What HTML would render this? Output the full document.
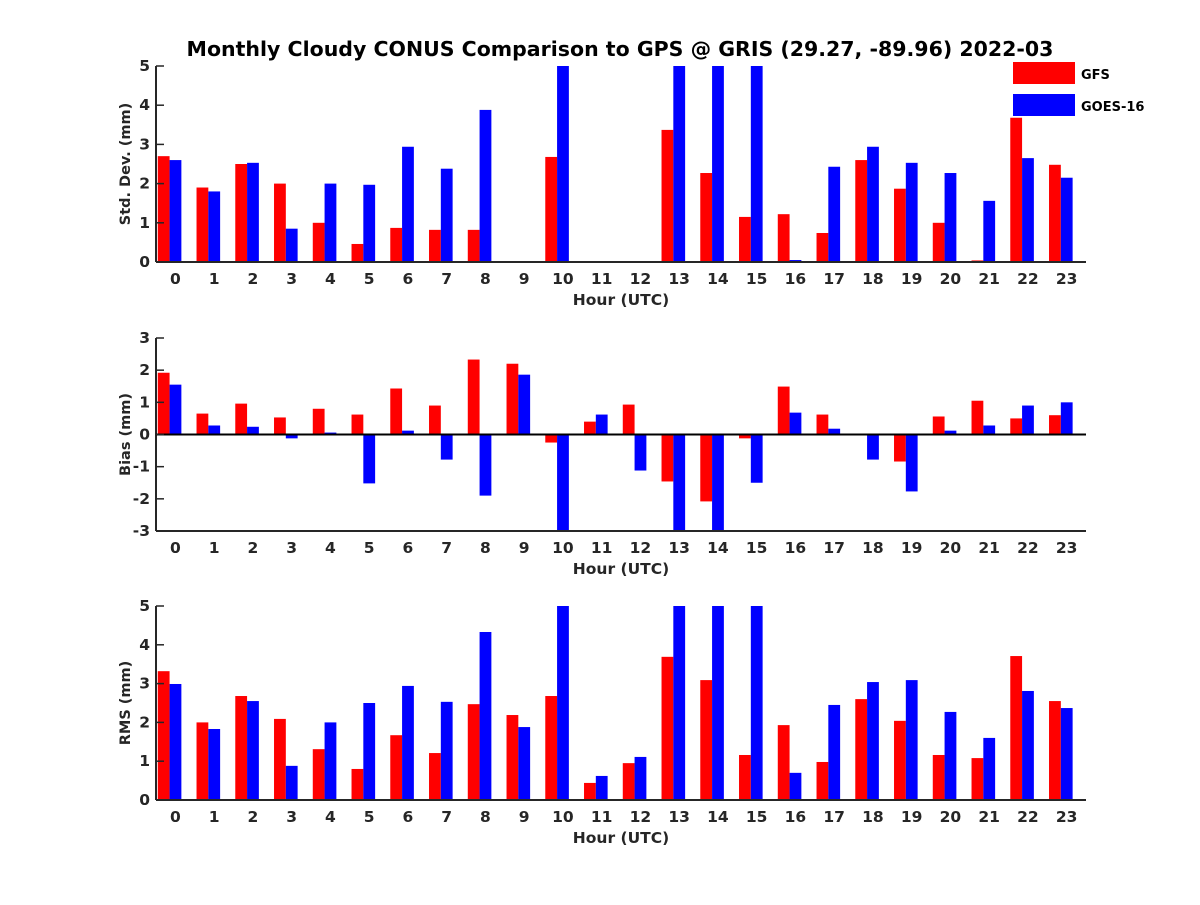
<!DOCTYPE html>
<html><head><meta charset="utf-8"><style>
body{margin:0;background:#fff;}
svg text{font-family:"DejaVu Sans","Liberation Sans",sans-serif;font-weight:bold;fill:#262626;}
</style></head><body>
<svg id="chart" width="1200" height="900" xmlns="http://www.w3.org/2000/svg">
<rect width="1200" height="900" fill="#fff"/>
<text x="620" y="56" text-anchor="middle" font-size="20.5" style="fill:#000">Monthly Cloudy CONUS Comparison to GPS @ GRIS (29.27, -89.96) 2022-03</text>
<g>
<rect x="1013" y="62" width="62" height="22" fill="#ff0000"/>
<text x="1081" y="79" font-size="13" style="fill:#000">GFS</text>
<rect x="1013" y="94" width="62" height="22" fill="#0000ff"/>
<text x="1081" y="111" font-size="13" style="fill:#000">GOES-16</text>
</g>
</svg>
<script>
const hours=[0,1,2,3,4,5,6,7,8,9,10,11,12,13,14,15,16,17,18,19,20,21,22,23];
const stdGFS=[2.7,1.9,2.5,2.0,1.0,0.46,0.87,0.82,0.82,0,2.68,0,0,3.37,2.27,1.15,1.22,0.74,2.6,1.87,1.0,0.04,3.68,2.48];
const stdGOES=[2.6,1.8,2.53,0.85,2.0,1.97,2.94,2.38,3.88,0,5,0,0,5,5,5,0.05,2.43,2.94,2.53,2.27,1.56,2.65,2.15];
const biasGFS=[1.92,0.65,0.96,0.53,0.8,0.62,1.43,0.9,2.33,2.2,-0.25,0.4,0.93,-1.46,-2.08,-0.12,1.49,0.62,-0.03,-0.84,0.56,1.05,0.5,0.6];
const biasGOES=[1.55,0.28,0.24,-0.12,0.06,-1.52,0.12,-0.78,-1.9,1.86,-3,0.62,-1.12,-3,-3,-1.5,0.68,0.18,-0.78,-1.77,0.12,0.28,0.9,1.0];
const rmsGFS=[3.32,2.0,2.68,2.09,1.31,0.8,1.67,1.21,2.47,2.19,2.68,0.44,0.95,3.69,3.09,1.16,1.93,0.98,2.6,2.04,1.16,1.08,3.71,2.55];
const rmsGOES=[2.99,1.83,2.55,0.88,2.0,2.5,2.94,2.53,4.33,1.88,5,0.62,1.11,5,5,5,0.7,2.45,3.04,3.09,2.27,1.6,2.81,2.37];
const stdTicks=[0,1,2,3,4,5];
const biasTicks=[-3,-2,-1,0,1,2,3];
const rmsTicks=[0,1,2,3,4,5];

const svg=document.getElementById('chart');
const NS='http://www.w3.org/2000/svg';
const X0=156,X1=1086;
function xs(h){return X0+(h+0.5)*(X1-X0)/24;}
function mk(tag,attrs,parent){const e=document.createElementNS(NS,tag);for(const k in attrs)e.setAttribute(k,attrs[k]);(parent||svg).appendChild(e);return e;}

function panel(key,top,bottom,ymin,ymax,ticks,ylabel,a,b){
  const g=mk('g',{});
  
  
  const ys=v=>bottom-(v-ymin)/(ymax-ymin)*(bottom-top);
  const clip=v=>Math.max(ymin,Math.min(ymax,v));
  const bw=11.8;
  hours.forEach((h,i)=>{
    [[a[i],'#ff0000',-17.6,'gfs'],[b[i],'#0000ff',-5.8,'goes']].forEach(([v,c,off,s])=>{
      const y0=ys(Math.max(0,ymin)), y1=ys(clip(v));
      const r=mk('rect',{x:xs(h)+off,y:Math.min(y0,y1),width:bw,height:Math.abs(y1-y0),fill:c},g);
      
      
    });
    const t=mk('text',{x:xs(h),y:bottom+22,'text-anchor':'middle','font-size':15.5},g);
    t.textContent=h;
    
    
  });
  const ax=mk('line',{x1:X0,y1:top,x2:X0,y2:bottom,stroke:'#262626','stroke-width':2},g);
  
  
  const bx=mk('line',{x1:X0,y1:bottom,x2:X1,y2:bottom,stroke:'#262626','stroke-width':2},g);
  
  
  if(ymin<0){
    const zl=mk('line',{x1:X0,y1:ys(0),x2:X1,y2:ys(0),stroke:'#000','stroke-width':2},g);
    
    
  }
  ticks.forEach(v=>{
    mk('line',{x1:X0,y1:ys(v),x2:X0+8,y2:ys(v),stroke:'#262626','stroke-width':1.5},g);
    const t=mk('text',{x:X0-6,y:ys(v)+5,'text-anchor':'end','font-size':15.5},g);
    t.textContent=v;
    
    
  });
  const xl=mk('text',{x:(X0+X1)/2,y:bottom+43,'text-anchor':'middle','font-size':15.5},g);
  xl.textContent='Hour (UTC)';
  
  
  const cy=(top+bottom)/2;
  const yl=mk('text',{x:130,y:cy,'text-anchor':'middle','font-size':14.5,transform:'rotate(-90 130 '+cy+')'},g);
  yl.textContent=ylabel;
  
  
}
panel('std',66,262,0,5,stdTicks,'Std. Dev. (mm)',stdGFS,stdGOES);
panel('bias',338,531,-3,3,biasTicks,'Bias (mm)',biasGFS,biasGOES);
panel('rms',606,800,0,5,rmsTicks,'RMS (mm)',rmsGFS,rmsGOES);
</script>
</body></html>
